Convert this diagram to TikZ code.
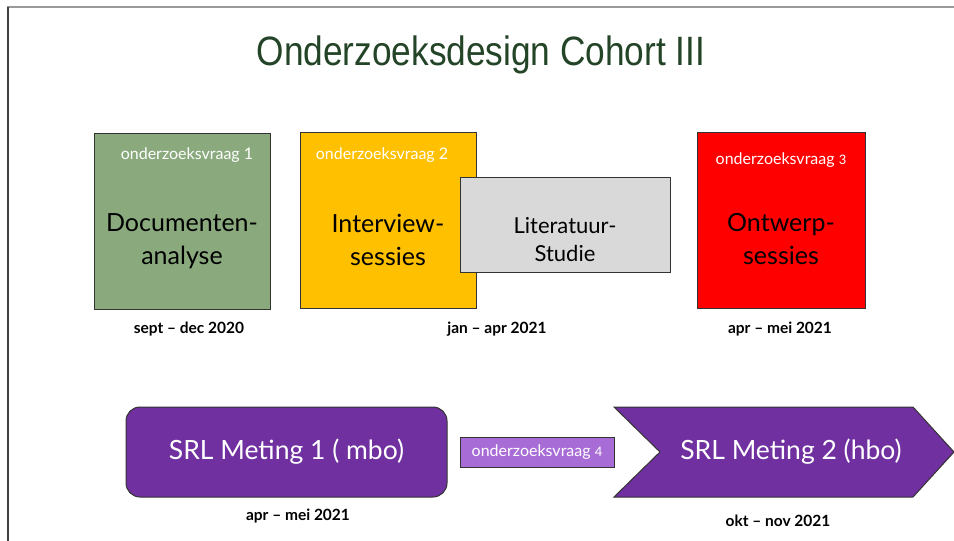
\documentclass[tikz,border=0pt]{standalone}
\usepackage{fontspec}
\setmainfont{Lato}
\newfontfamily\titlefont[FakeStretch=0.86]{Liberation Sans}
\definecolor{kopgroen}{RGB}{36,68,40}
\definecolor{groen}{RGB}{138,170,126}
\definecolor{geel}{RGB}{255,192,0}
\definecolor{grijs}{RGB}{217,217,217}
\definecolor{rood}{RGB}{255,0,0}
\definecolor{paars}{RGB}{112,48,160}
\definecolor{lichtpaars}{RGB}{168,108,214}

\begin{document}
\begin{tikzpicture}[x=1pt,y=-1pt,
  blok/.style={draw=black!80,line width=1pt,inner sep=0pt},
  vraag/.style={text=white,font=\fontsize{16}{18}\selectfont},
  fase/.style={font=\fontsize{25}{33}\selectfont,align=center},
  srl/.style={text=white,font=\fontsize{26.5}{30}\selectfont},
  datum/.style={font=\bfseries\fontsize{15.5}{18}\selectfont}]
			%%%%% START %%%%%
			\useasboundingbox (0,0) rectangle (954,541);
			\fill[white] (0,0) rectangle (954,541);
			
			% kader
			\draw[line width=2pt, color=black!40] (7,6.5) -- (954,6.5);
			\draw[line width=1.5pt, color=black!75] (8,7) -- (8,541);
			
			\node[text=kopgroen, font=\titlefont\fontsize{41}{45}\selectfont] (titel) at (481,55) {Onderzoeksdesign Cohort III};
			
			% fase 1
			\node[blok, fill=groen, minimum width=176, minimum height=176] (docblok) at (182,221) {};
			\node[vraag] (vraag1) at (187,155) {onderzoeksvraag 1};
			\node[fase] (doc) at (182,241) {Documenten-\\analyse};
			\node[datum] (datum1) at (189,329) {sept -- dec 2020};
			
			% fase 2
			\node[blok, fill=geel, minimum width=176, minimum height=176] (intblok) at (388,220) {};
			\node[vraag] (vraag2) at (382,155) {onderzoeksvraag 2};
			\node[fase] (int) at (388,239.5) {Interview-\\sessies};
			\node[blok, fill=grijs, minimum width=210, minimum height=95] (litblok) at (565,224.5) {};
			\node[fase, font=\fontsize{22}{28}\selectfont] (lit) at (565,239.5) {Literatuur-\\Studie};
			\node[datum] (datum2) at (497,329) {jan -- apr 2021};
			
			% fase 3
			\node[blok, fill=rood, minimum width=168, minimum height=176] (ontblok) at (781,220) {};
			\node[vraag] (vraag3) at (781,160) {onderzoeksvraag {\fontsize{13}{15}\selectfont 3}};
			\node[fase] (ont) at (781,239.5) {Ontwerp-\\sessies};
			\node[datum] (datum3) at (780,329) {apr -- mei 2021};
			
			% metingen
			\node[blok, fill=paars, rounded corners=14pt, minimum width=321, minimum height=90] (meting1) at (286.5,452) {};
			\node[srl] at (meting1) {SRL Meting 1 ( mbo)};
			\node[blok, fill=lichtpaars, minimum width=154, minimum height=30, vraag] (vraag4) at (537,452) {onderzoeksvraag {\fontsize{13}{15}\selectfont 4}};
			\draw[line width=1pt, draw=black!80, fill=paars] (614,407) -- (913,407) -- (954,452) -- (913,497) -- (614,497) -- (660,452) -- cycle;
			\node[srl] (meting2) at (791,452) {SRL Meting 2 (hbo)};
			\node[datum] (datum4) at (298,516) {apr -- mei 2021};
			\node[datum] (datum5) at (778,521) {okt -- nov 2021};
			
			%%%%% END %%%%%
\end{tikzpicture}
\end{document}
